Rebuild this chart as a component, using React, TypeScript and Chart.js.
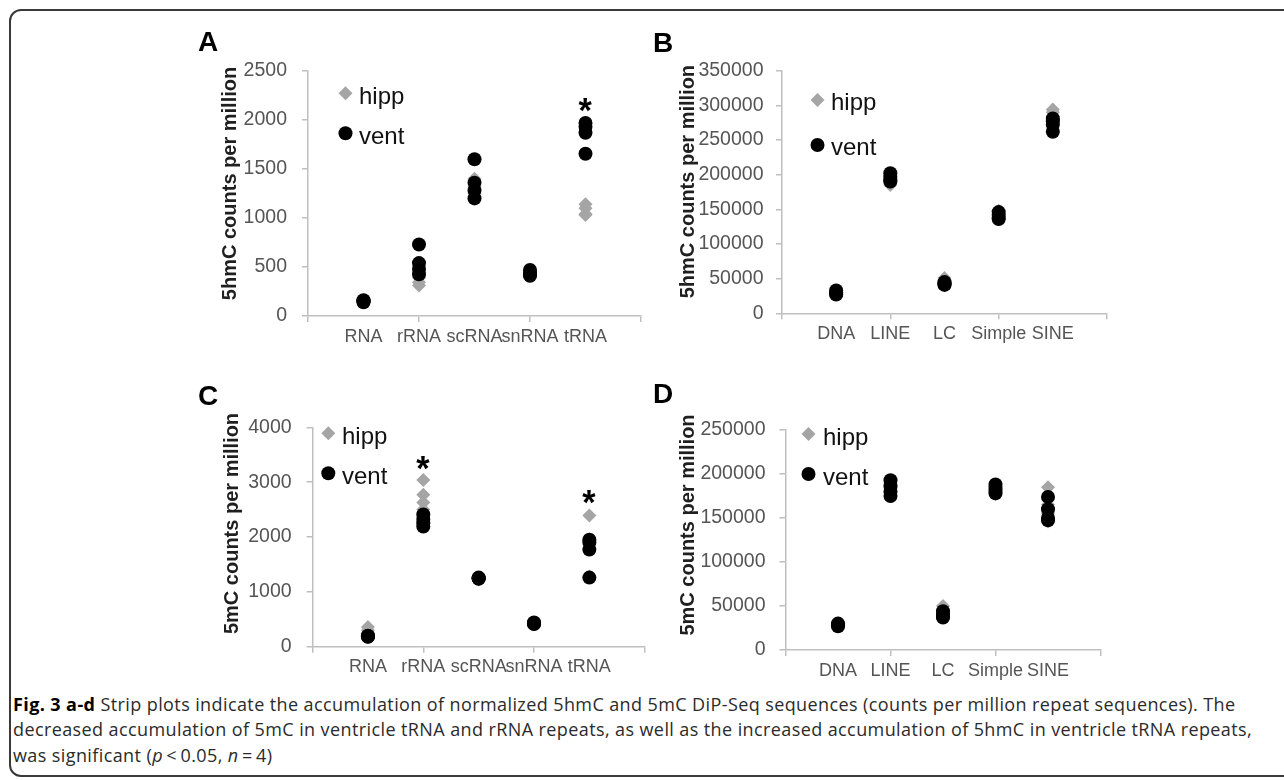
import React, { useEffect, useRef } from "react";
import { Chart, registerables } from "chart.js";

Chart.register(...registerables);

// ---------- data ----------
const RNA_CATEGORIES = ["RNA", "rRNA", "scRNA", "snRNA", "tRNA"];
const REPEAT_CATEGORIES = ["DNA", "LINE", "LC", "Simple", "SINE"];
const SERIES = ["hipp", "vent"];

// Panel A: 5hmC, RNA repeats (4 replicates per category)
const A_HIPP = [
  [140, 145, 150, 155],
  [310, 345, 390, 440],
  [1400, 1320, 1250, 1220],
  [460, 450, 430, 415],
  [1140, 1100, 1040, 1030],
];
const A_VENT = [
  [140, 150, 155, 160],
  [730, 540, 480, 425],
  [1600, 1360, 1280, 1200],
  [470, 440, 420, 410],
  [1970, 1930, 1870, 1655],
];
const A_Y_TICKS = [0, 500, 1000, 1500, 2000, 2500];
const A_STARS = [{ category: 5, value: 2150 }];

// Panel B: 5hmC, DNA repeats
const B_HIPP = [
  [32000, 30000, 29000, 28000],
  [199000, 193000, 188000, 185000],
  [51000, 47000, 44000, 42000],
  [148000, 143000, 140000, 136000],
  [294000, 290000, 284000, 279000],
];
const B_VENT = [
  [33000, 30000, 28000, 27000],
  [202000, 197000, 192000, 190000],
  [45000, 43000, 42000, 41000],
  [146000, 142000, 138000, 136000],
  [281000, 277000, 272000, 262000],
];
const B_Y_TICKS = [0, 50000, 100000, 150000, 200000, 250000, 300000, 350000];
const B_STARS: { category: number; value: number }[] = [];

// Panel C: 5mC, RNA repeats
const C_HIPP = [
  [360, 300, 250, 220],
  [3040, 2770, 2630, 2500],
  [1255, 1250, 1240, 1235],
  [435, 425, 420, 410],
  [2390, 1960, 1800, 1280],
];
const C_VENT = [
  [200, 190, 185, 180],
  [2410, 2330, 2250, 2190],
  [1260, 1250, 1245, 1240],
  [440, 430, 420, 415],
  [1950, 1900, 1770, 1260],
];
const C_Y_TICKS = [0, 1000, 2000, 3000, 4000];
const C_STARS = [
  { category: 2, value: 3344 },
  { category: 5, value: 2735 },
];

// Panel D: 5mC, DNA repeats
const D_HIPP = [
  [30000, 29000, 28000, 27500],
  [190000, 184000, 179000, 176000],
  [50000, 45000, 40000, 38000],
  [186000, 183000, 180000, 177000],
  [185000, 165000, 155000, 146000],
];
const D_VENT = [
  [30000, 29000, 28000, 27000],
  [193000, 186000, 180000, 175000],
  [44000, 41000, 38000, 37000],
  [188000, 184000, 181000, 178000],
  [174000, 160000, 150000, 147500],
];
const D_Y_TICKS = [0, 50000, 100000, 150000, 200000, 250000];

// ---------- styles ----------
const AXIS = "#bfbfbf";
const GRAY = "#a5a5a5";
const FONT = '"Liberation Sans", Arial, sans-serif';

type Star = { category: number; value: number };
type PanelLayout = {
  box: [number, number, number, number];
  area: [number, number, number, number];
  title: [number, number];
  letterAt: [number, number];
  legendX: number;
  legendTextX: number;
  legendY: [number, number];
  legendBaseline: number;
  tickPad: number;
};
type PanelProps = {
  letter: string;
  yTitle: string;
  categories: string[];
  hipp: number[][];
  vent: number[][];
  yTicks: number[];
  stars: Star[];
  layout: PanelLayout;
};

function Panel(p: PanelProps) {
  const ref = useRef<HTMLCanvasElement>(null);
  useEffect(() => {
    const L = p.layout;
    const [bl, bt, bw, bh] = L.box;
    const [al, at, ar, ab] = L.area;
    const xH = 40;
    const toPoints = (vals: number[][]) =>
      vals.flatMap((arr, i) => arr.map((y) => ({ x: i + 1, y })));
    const xTicks = [0, ...p.categories.map((_, i) => i + 1), p.categories.length + 1];

    const styles: Record<string, { style: string; color: string }> = {
      hipp: { style: "rectRot", color: GRAY },
      vent: { style: "circle", color: "#000" },
    };

    const decor = {
      id: "decor",
      afterDraw(chart: any) {
        const ctx: CanvasRenderingContext2D = chart.ctx;
        ctx.save();
        // panel letter
        ctx.fillStyle = "#000";
        ctx.font = `bold 28px ${FONT}`;
        ctx.textAlign = "left";
        ctx.textBaseline = "alphabetic";
        ctx.fillText(p.letter, L.letterAt[0] - bl, L.letterAt[1] - bt);

        // y title
        ctx.save();
        ctx.font = `bold 20px ${FONT}`;
        const m = ctx.measureText(p.yTitle);
        ctx.translate(L.title[0] - bl, L.title[1] - bt);
        ctx.rotate(-Math.PI / 2);
        ctx.textAlign = "center";
        ctx.fillStyle = "#1f1f1f";
        ctx.fillText(p.yTitle, 0, (m.actualBoundingBoxAscent - m.actualBoundingBoxDescent) / 2);
        ctx.restore();

        // legend
        SERIES.forEach((name, i) => {
          const s = styles[name];
          const x = L.legendX - bl;
          const y = L.legendY[i] - bt;
          const r = 7;
          ctx.fillStyle = s.color;
          ctx.beginPath();
          if (s.style === "rectRot") {
            ctx.moveTo(x, y - r);
            ctx.lineTo(x + r, y);
            ctx.lineTo(x, y + r);
            ctx.lineTo(x - r, y);
            ctx.closePath();
          } else {
            ctx.arc(x, y, r, 0, Math.PI * 2);
          }
          ctx.fill();
          ctx.fillStyle = "#111";
          ctx.font = `24px ${FONT}`;
          ctx.textAlign = "left";
          ctx.fillText(name, L.legendTextX - bl, y + L.legendBaseline);
        });

        // significance stars
        ctx.font = `bold 100px ${FONT}`;
        const m100 = ctx.measureText("*");
        const h100 = m100.actualBoundingBoxAscent + m100.actualBoundingBoxDescent;
        const size = (100 * 13) / h100;
        ctx.font = `bold ${size}px ${FONT}`;
        const ms = ctx.measureText("*");
        ctx.fillStyle = "#000";
        ctx.textAlign = "left";
        p.stars.forEach((st) => {
          const tx = chart.scales.x.getPixelForValue(st.category);
          const ty = chart.scales.y.getPixelForValue(st.value);
          const x = tx - (ms.actualBoundingBoxRight - ms.actualBoundingBoxLeft) / 2;
          const y = ty + (ms.actualBoundingBoxAscent - ms.actualBoundingBoxDescent) / 2;
          ctx.fillText("*", x, y);
        });
        ctx.restore();
      },
    };

    const chart = new Chart(ref.current as HTMLCanvasElement, {
      type: "scatter",
      data: {
        datasets: [
          {
            label: "vent",
            data: toPoints(p.vent),
            pointStyle: "circle",
            pointRadius: 7,
            backgroundColor: "#000",
            borderColor: "#000",
            borderWidth: 0,
            order: 0,
          },
          {
            label: "hipp",
            data: toPoints(p.hipp),
            pointStyle: "rectRot",
            pointRadius: 7,
            backgroundColor: GRAY,
            borderColor: GRAY,
            borderWidth: 0,
            order: 1,
          },
        ],
      },
      options: {
        animation: false,
        responsive: false,
        events: [],
        layout: {
          padding: {
            left: 0,
            top: at - bt,
            right: bl + bw - ar,
            bottom: bt + bh - ab - xH,
          },
        },
        plugins: { legend: { display: false }, tooltip: { enabled: false } },
        scales: {
          x: {
            type: "linear",
            min: 0,
            max: p.categories.length + 1,
            afterFit: (s: any) => {
              s.height = xH;
            },
            afterBuildTicks: (s: any) => {
              s.ticks = xTicks.map((v) => ({ value: v }));
            },
            ticks: {
              callback: (v: any) => p.categories[Number(v) - 1] ?? "",
              font: { family: FONT, size: 18 },
              color: "#555",
              padding: 4,
              maxRotation: 0,
              autoSkip: false,
            },
            grid: {
              drawOnChartArea: false,
              drawTicks: true,
              tickLength: 6,
              lineWidth: 1.5,
              tickColor: (c: any) =>
                c.tick && c.tick.value % 2 === 0 ? AXIS : "rgba(0,0,0,0)",
            },
            border: { display: true, color: AXIS, width: 1.5 },
          },
          y: {
            type: "linear",
            min: p.yTicks[0],
            max: p.yTicks[p.yTicks.length - 1],
            afterFit: (s: any) => {
              s.width = al - bl;
            },
            afterBuildTicks: (s: any) => {
              s.ticks = p.yTicks.map((v) => ({ value: v }));
            },
            ticks: {
              callback: (v: any) => String(v),
              font: { family: FONT, size: 19.5 },
              color: "#555",
              padding: L.tickPad,
            },
            grid: {
              drawOnChartArea: false,
              drawTicks: true,
              tickLength: 6,
              lineWidth: 1.5,
              tickColor: AXIS,
            },
            border: { display: true, color: AXIS, width: 1.5 },
          },
        },
      },
      plugins: [decor],
    } as any);
    return () => chart.destroy();
  }, []);
  const [bl, bt, bw, bh] = p.layout.box;
  return (
    <canvas
      ref={ref}
      width={bw}
      height={bh}
      style={{ position: "absolute", left: bl, top: bt, width: bw, height: bh }}
    />
  );
}

export default function App() {
  return (
    <div
      style={{
        position: "absolute",
        left: 0,
        top: 0,
        width: 1284,
        height: 780,
        overflow: "hidden",
        background: "#fff",
      }}
    >
      <div
        style={{
          position: "absolute",
          left: 9,
          top: 9,
          width: 1300,
          height: 768,
          boxSizing: "border-box",
          border: "2px solid #3a3a3a",
          borderRadius: 12,
        }}
      />
      <Panel
        letter="A"
        yTitle="5hmC counts per million"
        categories={RNA_CATEGORIES}
        hipp={A_HIPP}
        vent={A_VENT}
        yTicks={A_Y_TICKS}
        stars={A_STARS}
        layout={{
          box: [180, 18, 472, 345],
          area: [308, 71, 641, 316],
          title: [230, 183.5],
          letterAt: [198, 51],
          legendX: 345.5,
          legendTextX: 359,
          legendY: [93.3, 133.3],
          legendBaseline: 10.5,
          tickPad: 15,
        }}
      />
      <Panel
        letter="B"
        yTitle="5hmC counts per million"
        categories={REPEAT_CATEGORIES}
        hipp={B_HIPP}
        vent={B_VENT}
        yTicks={B_Y_TICKS}
        stars={B_STARS}
        layout={{
          box: [650, 18, 470, 345],
          area: [782, 70.7, 1107, 313.3],
          title: [688, 181.6],
          letterAt: [653, 51.7],
          legendX: 817.5,
          legendTextX: 831,
          legendY: [100, 145],
          legendBaseline: 9.5,
          tickPad: 12.5,
        }}
      />
      <Panel
        letter="C"
        yTitle="5mC counts per million"
        categories={RNA_CATEGORIES}
        hipp={C_HIPP}
        vent={C_VENT}
        yTicks={C_Y_TICKS}
        stars={C_STARS}
        layout={{
          box: [180, 365, 472, 325],
          area: [312.6, 427.3, 644.7, 646.7],
          title: [232, 523.5],
          letterAt: [198, 405],
          legendX: 328.3,
          legendTextX: 342,
          legendY: [433.3, 473.3],
          legendBaseline: 10.5,
          tickPad: 15,
        }}
      />
      <Panel
        letter="D"
        yTitle="5mC counts per million"
        categories={REPEAT_CATEGORIES}
        hipp={D_HIPP}
        vent={D_VENT}
        yTicks={D_Y_TICKS}
        stars={[]}
        layout={{
          box: [650, 365, 470, 325],
          area: [785.5, 430, 1100.5, 650],
          title: [688, 525],
          letterAt: [653, 403],
          legendX: 808.5,
          legendTextX: 823,
          legendY: [434, 474],
          legendBaseline: 10.5,
          tickPad: 14,
        }}
      />
      <div
        style={{
          position: "absolute",
          left: 13,
          top: 692,
          fontFamily: '"Open Sans", sans-serif',
          fontSize: 18,
          letterSpacing: "0.4px",
          lineHeight: "25.3px",
          color: "#2b2b2b",
          whiteSpace: "nowrap",
        }}
      >
        <b style={{ color: "#000" }}>Fig. 3 a-d</b> Strip plots indicate the accumulation of
        normalized 5hmC and 5mC DiP-Seq sequences (counts per million repeat sequences). The
        <br />
        decreased accumulation of 5mC in ventricle tRNA and rRNA repeats, as well as the
        increased accumulation of 5hmC in ventricle tRNA repeats,
        <br />
        was significant (<i>p</i>{"\u2009<\u2009"}0.05, <i>n</i>{"\u2009=\u2009"}4)
      </div>
    </div>
  );
}
